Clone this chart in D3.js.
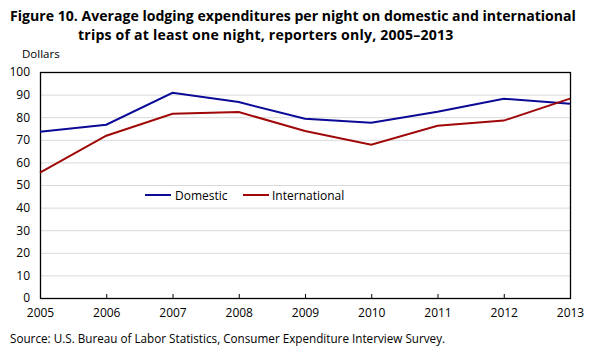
<!DOCTYPE html>
<html><head><meta charset="utf-8">
<script src="https://cdn.jsdelivr.net/npm/d3@7"></script>
<style>body{margin:0;background:#fff;} svg{display:block;}</style>
</head><body>
<svg id="c" width="599" height="359"></svg>
<script>
const years = [2005,2006,2007,2008,2009,2010,2011,2012,2013];
const domestic = [73.6,76.7,90.8,86.7,79.3,77.6,82.4,88.2,86.0];
const international = [55.5,71.8,81.5,82.3,73.9,67.8,76.2,78.5,88.2];
const yTicks = [0,10,20,30,40,50,60,70,80,90,100];
const seriesNames = ["Domestic","International"];
const colors = ["#0a0a96","#a00808"];

const svg = d3.select("#c");
const font = "'Open Sans', sans-serif";
const L=40,R=570,T=72,B=298;
const x = d3.scaleLinear().domain([2005,2013]).range([L,R]);
const y = d3.scaleLinear().domain([0,100]).range([B,T]);

// title
const t = svg.append("text").attr("font-family",font).attr("font-weight","bold").attr("font-size",14.1).attr("fill","#000");
t.append("tspan").attr("x",10).attr("y",21).text("Figure 10. Average lodging expenditures per night on domestic and international");
t.append("tspan").attr("x",78).attr("y",40).attr("letter-spacing",0.2).text("trips of at least one night, reporters only, 2005\u20132013");

svg.append("text").attr("x",22).attr("y",58).attr("font-family",font).attr("font-size",11.5).text("Dollars");

// grid
svg.append("g").selectAll("line").data(yTicks.filter(d=>d>0&&d<100)).join("line")
  .attr("x1",L).attr("x2",R).attr("y1",d=>y(d)+0.5).attr("y2",d=>y(d)+0.5)
  .attr("stroke","#d9d9d9").attr("stroke-width",1);

// y axis labels
const ya = svg.append("g").attr("transform",`translate(${L},0)`)
  .call(d3.axisLeft(y).tickValues(yTicks).tickSize(0).tickPadding(10));
ya.select(".domain").remove();
ya.selectAll("text").attr("font-family",font).attr("font-size",12).attr("fill","#000");

// x axis
const xa = svg.append("g").attr("transform",`translate(0,${B})`)
  .call(d3.axisBottom(x).tickValues(years).tickFormat(d3.format("d")).tickSizeInner(-4).tickSizeOuter(0).tickPadding(10));
xa.select(".domain").remove();
xa.selectAll("line").attr("stroke","#000");
xa.selectAll("text").attr("font-family",font).attr("font-size",12).attr("fill","#000");

// frame
svg.append("rect").attr("x",L+0.5).attr("y",T+0.5).attr("width",R-L).attr("height",B-T)
  .attr("fill","none").attr("stroke","#000").attr("stroke-width",1.3);

// lines
const line = d3.line().x((d,i)=>x(years[i])).y(d=>y(d));
[domestic,international].forEach((s,i)=>{
  svg.append("path").datum(s).attr("d",line).attr("fill","none")
    .attr("stroke",colors[i]).attr("stroke-width",2);
});

// legend
const leg = [{x:145,tx:175},{x:243,tx:272}];
seriesNames.forEach((n,i)=>{
  svg.append("line").attr("x1",leg[i].x).attr("x2",leg[i].x+26).attr("y1",195).attr("y2",195)
    .attr("stroke",colors[i]).attr("stroke-width",2);
  svg.append("text").attr("x",leg[i].tx).attr("y",199.5).attr("font-family",font).attr("font-size",12).text(n);
});

svg.append("text").attr("x",10).attr("y",343).attr("font-family",font).attr("font-size",11.7)
  .text("Source: U.S. Bureau  of Labor Statistics,  Consumer Expenditure  Interview Survey.");
</script>
</body></html>
